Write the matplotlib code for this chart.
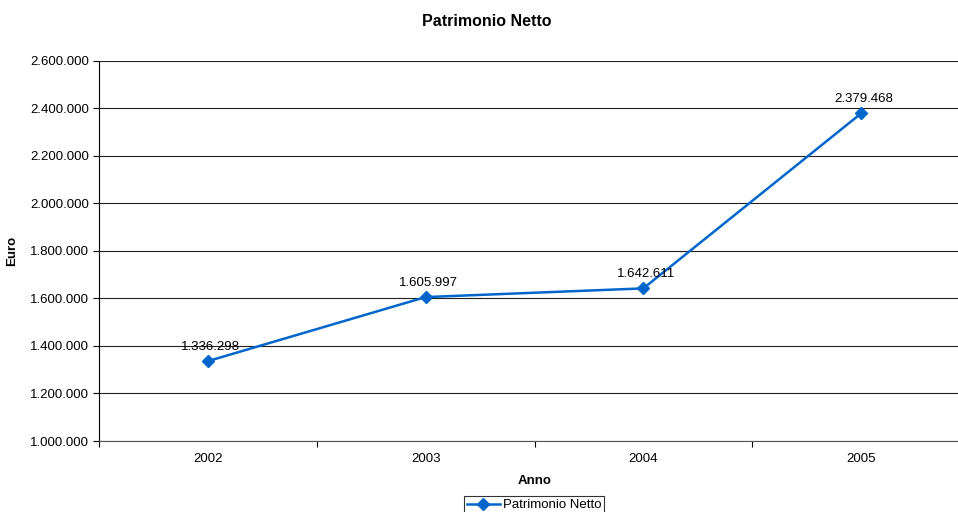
import matplotlib.pyplot as plt
from matplotlib.ticker import FuncFormatter

anni = ['2002', '2003', '2004', '2005']
patrimonio = [1336298, 1605997, 1642611, 2379468]
y_ticks = [1000000, 1200000, 1400000, 1600000, 1800000, 2000000, 2200000, 2400000, 2600000]

plt.rcParams['font.family'] = ['Liberation Sans', 'DejaVu Sans']

def fmt_it(v):
    return f"{int(round(v)):,}".replace(',', '.')

fig = plt.figure(figsize=(9.58, 5.12), dpi=100)
ax = fig.add_axes([99 / 958, 1 - 441 / 512, 871 / 958, 380 / 512])

x = [i + 0.5 for i in range(len(anni))]
line, = ax.plot(x, patrimonio, color='#0066CC', linewidth=1.8, marker='D', markersize=6,
                label='Patrimonio Netto')
for xi, v in zip(x, patrimonio):
    ax.annotate(fmt_it(v), (xi, v), xytext=(2, 6), textcoords='offset points',
                ha='center', va='bottom', fontsize=9.5)

ax.set_xlim(0, 4)
ax.set_ylim(1000000, 2600000)
ax.set_yticks(y_ticks)
ax.yaxis.set_major_formatter(FuncFormatter(lambda v, p: fmt_it(v)))
ax.set_xticks([0, 1, 2, 3])
ax.set_xticklabels([])
ax.set_xticks(x, minor=True)
ax.set_xticklabels(anni, minor=True)
ax.tick_params(axis='x', which='minor', length=0, labelsize=9.5, pad=9)
ax.tick_params(axis='x', which='major', length=4, direction='out', width=0.8)
ax.tick_params(axis='y', length=4, direction='out', labelsize=9.5, width=0.8, pad=3)
ax.grid(axis='y', color='#222222', linewidth=0.8)
ax.set_axisbelow(True)
for s in ['top', 'right']:
    ax.spines[s].set_visible(False)
ax.spines['bottom'].set_color('#555555')

ax.set_ylabel('Euro', fontsize=9.5, fontweight='bold')
ax.yaxis.set_label_coords(-81 / 871, 0.5)
ax.set_xlabel('Anno', fontsize=9.5, fontweight='bold', labelpad=7)
fig.text(487 / 958, 1 - 21 / 512, 'Patrimonio Netto', ha='center', va='center',
         fontsize=11.5, fontweight='bold')

leg = fig.legend(handles=[line], loc='center', bbox_to_anchor=(534 / 958, 1 - 505 / 512),
                 fontsize=9.5, frameon=True, fancybox=False, handlelength=2.5,
                 borderpad=0.2, handletextpad=0.2, borderaxespad=0)
leg.get_frame().set_edgecolor('black')
leg.get_frame().set_linewidth(0.8)

fig.savefig('out.png', dpi=100)
